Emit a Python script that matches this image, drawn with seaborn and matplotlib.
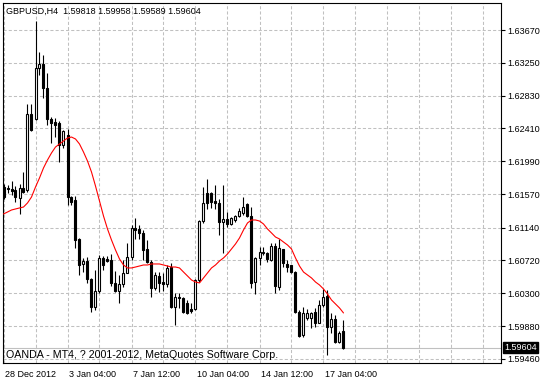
import numpy as np
import pandas as pd
import matplotlib
matplotlib.use("Agg")
import matplotlib.pyplot as plt
import seaborn as sns
from matplotlib.transforms import blended_transform_factory, ScaledTranslation

chart_title = "GBPUSD,H4  1.59818 1.59958 1.59589 1.59604"
footer_text = "OANDA - MT4, ? 2001-2012, MetaQuotes Software Corp."

open_ = [1.61660, 1.61648, 1.61635, 1.61622, 1.61520, 1.61648, 1.61622, 1.62595, 1.62531, 1.63184,
         1.63235, 1.62928, 1.62531, 1.62492, 1.62480, 1.62198, 1.62326, 1.61532, 1.61494, 1.60995,
         1.60675, 1.60713, 1.60483, 1.60124, 1.60329, 1.60752, 1.60739, 1.60726, 1.60432, 1.60329,
         1.60419, 1.60560, 1.60764, 1.61136, 1.61123, 1.61072, 1.60867, 1.60700, 1.60368, 1.60521,
         1.60444, 1.60419, 1.60636, 1.60124, 1.60252, 1.60240, 1.60176, 1.60099, 1.60099, 1.60470,
         1.61225, 1.61584, 1.61584, 1.61481, 1.61456, 1.61212, 1.61251, 1.61187, 1.61238, 1.61289,
         1.61328, 1.61443, 1.61289, 1.60444, 1.60752, 1.60816, 1.60816, 1.60726, 1.60905, 1.60380,
         1.60867, 1.60675, 1.60662, 1.60572, 1.60060, 1.59766, 1.59984, 1.59984, 1.60060, 1.59920,
         1.60150, 1.60265, 1.59868, 1.59971, 1.59676, 1.59818]
high = [1.61699, 1.61686, 1.61737, 1.61673, 1.61699, 1.61852, 1.62723, 1.62723, 1.63785, 1.63388,
        1.63350, 1.63120, 1.62556, 1.62544, 1.62505, 1.62390, 1.62403, 1.61545, 1.61545, 1.61008,
        1.60752, 1.60764, 1.60496, 1.60598, 1.60790, 1.60777, 1.60777, 1.60803, 1.60585, 1.60534,
        1.60726, 1.60944, 1.61174, 1.61264, 1.61174, 1.61110, 1.60982, 1.60726, 1.60572, 1.60572,
        1.60560, 1.60662, 1.60688, 1.60304, 1.60304, 1.60252, 1.60214, 1.60176, 1.60483, 1.61238,
        1.61660, 1.61763, 1.61596, 1.61686, 1.61507, 1.61686, 1.61340, 1.61276, 1.61302, 1.61392,
        1.61532, 1.61456, 1.61404, 1.60764, 1.60892, 1.60892, 1.60828, 1.60944, 1.60944, 1.60995,
        1.60867, 1.60726, 1.60662, 1.60585, 1.60086, 1.60124, 1.60099, 1.60060, 1.60112, 1.60214,
        1.60355, 1.60342, 1.60048, 1.60022, 1.59817, 1.59958]
low = [1.61507, 1.61584, 1.61558, 1.61468, 1.61315, 1.61584, 1.61596, 1.62377, 1.62518, 1.63094,
       1.62800, 1.62454, 1.62224, 1.62300, 1.61980, 1.62160, 1.61430, 1.61430, 1.60880, 1.60534,
       1.60572, 1.60432, 1.60060, 1.60086, 1.60304, 1.60598, 1.60700, 1.60393, 1.60316, 1.60176,
       1.60380, 1.60560, 1.60726, 1.60995, 1.60995, 1.60726, 1.60688, 1.60252, 1.60342, 1.60316,
       1.60329, 1.60380, 1.60112, 1.59894, 1.60112, 1.60048, 1.60035, 1.60048, 1.60086, 1.60444,
       1.61200, 1.61379, 1.61392, 1.61379, 1.61046, 1.60816, 1.61148, 1.61174, 1.61212, 1.61276,
       1.61302, 1.61276, 1.60368, 1.60291, 1.60662, 1.60790, 1.60700, 1.60713, 1.60304, 1.60342,
       1.60636, 1.60572, 1.60560, 1.60048, 1.59740, 1.59740, 1.59958, 1.59856, 1.59868, 1.59920,
       1.60124, 1.59510, 1.59792, 1.59664, 1.59664, 1.59589]
close = [1.61532, 1.61635, 1.61609, 1.61532, 1.61648, 1.61596, 1.62595, 1.62390, 1.63184, 1.63235,
         1.62928, 1.62531, 1.62480, 1.62454, 1.62198, 1.62377, 1.61532, 1.61468, 1.60982, 1.60662,
         1.60713, 1.60483, 1.60124, 1.60329, 1.60752, 1.60662, 1.60713, 1.60432, 1.60329, 1.60419,
         1.60560, 1.60764, 1.61136, 1.61110, 1.61072, 1.60854, 1.60700, 1.60368, 1.60534, 1.60432,
         1.60419, 1.60624, 1.60124, 1.60252, 1.60240, 1.60060, 1.60048, 1.60073, 1.60470, 1.61225,
         1.61456, 1.61456, 1.61468, 1.61456, 1.61212, 1.61251, 1.61187, 1.61264, 1.61289, 1.61353,
         1.61404, 1.61289, 1.60432, 1.60752, 1.60828, 1.60828, 1.60739, 1.60905, 1.60393, 1.60880,
         1.60688, 1.60636, 1.60572, 1.60060, 1.59753, 1.60048, 1.60048, 1.60048, 1.59920, 1.60150,
         1.60252, 1.59868, 1.59971, 1.59676, 1.59792, 1.59604]
ma_values = [1.61315, 1.61340, 1.61366, 1.61379, 1.61392, 1.61404, 1.61456, 1.61532, 1.61660, 1.61776,
             1.61904, 1.62006, 1.62096, 1.62172, 1.62211, 1.62249, 1.62288, 1.62300, 1.62275, 1.62211,
             1.62108, 1.61993, 1.61852, 1.61673, 1.61481, 1.61289, 1.61123, 1.60982, 1.60854, 1.60739,
             1.60662, 1.60624, 1.60624, 1.60636, 1.60649, 1.60662, 1.60662, 1.60675, 1.60675, 1.60675,
             1.60662, 1.60649, 1.60636, 1.60636, 1.60624, 1.60572, 1.60521, 1.60470, 1.60444, 1.60432,
             1.60496, 1.60560, 1.60624, 1.60662, 1.60713, 1.60752, 1.60803, 1.60867, 1.60931, 1.61008,
             1.61110, 1.61200, 1.61238, 1.61238, 1.61225, 1.61187, 1.61123, 1.61072, 1.61020, 1.60995,
             1.60956, 1.60918, 1.60867, 1.60752, 1.60649, 1.60572, 1.60534, 1.60496, 1.60444, 1.60406,
             1.60355, 1.60291, 1.60214, 1.60163, 1.60112, 1.60048]

xtick_bars = [0, 16, 32, 48, 64, 80]
xtick_labels = ["28 Dec 2012", "3 Jan 04:00", "7 Jan 12:00", "10 Jan 04:00", "14 Jan 12:00", "17 Jan 04:00"]
ytick_values = [1.63670, 1.63250, 1.62830, 1.62410, 1.61990, 1.61570, 1.61140,
                1.60720, 1.60300, 1.59880, 1.59460]
last_price = 1.59604

sns.set_style("white")
plt.rcParams['font.family'] = ['Liberation Sans', 'DejaVu Sans']

fig = plt.figure(figsize=(5.42, 3.80), dpi=100)
ax = fig.add_axes([3 / 542, 17.3 / 380, 498 / 542, 359.7 / 380])

df = pd.DataFrame({"bar": np.arange(len(open_)), "open": open_, "high": high,
                   "low": low, "close": close, "ma": ma_values})
up = df["close"] >= df["open"]

grid_kw = dict(color="#c0c0c0", linestyle=(0, (3, 2)), linewidth=0.75)
ax.set_axisbelow(True)

ax.axhline(last_price, color="#c0c0c0", lw=0.8, zorder=1)

ax.vlines(df["bar"], df["low"], df["high"], color="black", lw=0.8, zorder=3)
body_lo = np.minimum(df["open"], df["close"])
body_h = np.maximum((df["close"] - df["open"]).abs(), 1e-7)
ax.bar(df["bar"], body_h, bottom=body_lo, width=0.5,
       color=np.where(up, "white", "black"), edgecolor="black", linewidth=0.8, zorder=4)

sns.lineplot(data=df, x="bar", y="ma", color="red", lw=0.8, ax=ax, zorder=5)
ax.set_xlabel("")
ax.set_ylabel("")

ax.set_xlim(-0.125, 124.375)
ax.set_ylim(1.59411, 1.64016)

ax.set_xticks(xtick_bars)
ax.set_xticklabels(xtick_labels, ha="left")
ax.set_xticks(np.arange(0, 125, 8), minor=True)
ax.tick_params(axis="x", which="major", length=4, width=0.8, pad=1.5, labelsize=6.5, colors="black")
ax.tick_params(axis="x", which="minor", length=0)
off = ScaledTranslation(1.5 / 100, 0, fig.dpi_scale_trans)
for lab in ax.get_xticklabels():
    lab.set_transform(lab.get_transform() + off)

ax.yaxis.tick_right()
ax.set_yticks(ytick_values)
ax.set_yticklabels([f"{v:.5f}" for v in ytick_values])
ax.tick_params(axis="y", length=3, width=0.8, pad=1.5, labelsize=6.5, colors="black")

ax.grid(True, which="both", axis="x", **grid_kw)
ax.grid(True, which="major", axis="y", **grid_kw)

for s in ax.spines.values():
    s.set_visible(True)
    s.set_color("black")
    s.set_linewidth(0.8)

trans = blended_transform_factory(ax.transAxes, ax.transData)
ax.text(1.0, last_price, f"{last_price:.5f}", transform=trans + ScaledTranslation(3 / 100, 0, fig.dpi_scale_trans),
        ha="left", va="center", color="white", fontsize=6.5, clip_on=False, zorder=10,
        bbox=dict(boxstyle="square,pad=0.12", fc="black", ec="black"))

fig.text(6 / 542, 1 - 11.7 / 380, chart_title, ha="left", va="center", fontsize=6.5, color="black")
fig.text(6 / 542, 1 - 355.5 / 380, footer_text, ha="left", va="center", fontsize=7.7, color="black")

fig.savefig("out.png", dpi=100, facecolor="white")
